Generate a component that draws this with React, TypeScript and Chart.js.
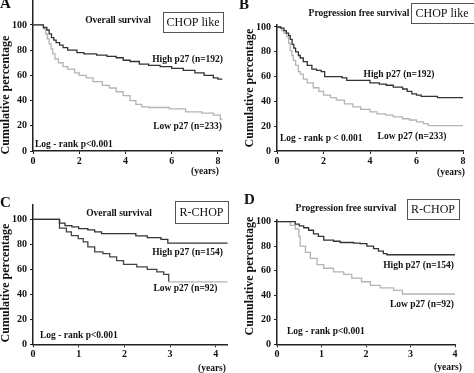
import React, { useEffect, useRef } from 'react';
import { Chart, registerables } from 'chart.js';
Chart.register(...registerables);

// ---- tick labels ----
const yTickValues = [0, 20, 40, 60, 80, 100];
const xTicks8 = [0, 2, 4, 6, 8];
const xTicks4 = [0, 1, 2, 3, 4];

// ---- A: Overall survival, CHOP like ----
const aHighT = [0, 0.45, 0.6, 0.7, 0.8, 0.9, 1.0, 1.15, 1.3, 1.5, 1.9, 2.2, 2.75, 3.2, 3.6, 3.9, 4.2, 4.6, 5.0, 5.5, 6.0, 6.5, 7.0, 7.4, 7.8, 8.0, 8.2];
const aHighS = [100, 98, 96, 93, 90, 88, 86, 84, 82, 80, 78, 77, 76, 75, 74, 72, 71, 69, 68, 67, 65.5, 64, 62, 60, 58, 57, 57];
const aLowT = [0, 0.45, 0.55, 0.62, 0.7, 0.78, 0.85, 0.95, 1.1, 1.3, 1.5, 1.8, 2.0, 2.3, 2.6, 3.0, 3.3, 3.6, 3.9, 4.2, 4.45, 4.7, 5.0, 5.9, 6.6, 7.3, 7.8, 8.1, 8.2];
const aLowS = [100, 97, 93, 89, 85, 81, 77, 73, 70, 67, 65, 62, 60, 58, 55, 52, 50, 47, 44, 40, 37, 35, 34.5, 33.5, 31, 30, 28.5, 25, 25];

// ---- B: Progression free survival, CHOP like ----
const bHighT = [0, 0.15, 0.3, 0.4, 0.5, 0.57, 0.65, 0.72, 0.8, 0.92, 1.0, 1.13, 1.3, 1.5, 1.7, 1.9, 2.05, 2.8, 3.0, 4.0, 4.4, 4.7, 5.0, 5.4, 5.6, 5.8, 6.0, 6.2, 6.9, 8.0];
const bHighS = [100, 99, 97, 95, 93, 90, 86, 83, 80, 77, 75, 72, 69, 66, 65, 64, 60, 59, 57, 55, 54, 53, 51.5, 50, 48, 46, 45, 44, 43, 43];
const bLowT = [0, 0.2, 0.3, 0.42, 0.5, 0.57, 0.64, 0.7, 0.8, 0.92, 1.0, 1.13, 1.3, 1.56, 1.8, 2.0, 2.3, 2.55, 2.9, 3.26, 3.6, 4.0, 4.3, 4.67, 5.0, 5.4, 5.7, 6.0, 6.3, 6.5, 8.0];
const bLowS = [100, 97, 95, 92, 87, 81, 77, 73, 69, 64, 62, 58, 55, 51, 48, 45, 43, 41, 38, 35.5, 33.5, 31.5, 30, 29, 27.5, 26, 25, 23.5, 22, 20.5, 20];

// ---- C: Overall survival, R-CHOP ----
const cHighT = [0, 0.58, 0.7, 0.85, 1.0, 1.2, 1.35, 1.5, 2.25, 2.5, 2.8, 2.95, 4.26];
const cHighS = [100, 97, 95, 94, 92.5, 91.5, 90, 88.5, 86.7, 85.3, 84, 81, 81];
const cLowT = [0, 0.58, 0.73, 0.84, 0.99, 1.1, 1.2, 1.35, 1.53, 1.68, 1.83, 1.98, 2.27, 2.5, 2.71, 2.86, 2.97];
const cLowS = [100, 93, 90, 87, 84.5, 82, 78, 74, 72.5, 70, 67, 64, 62, 60, 58, 56, 50];
const cLowTailT = [2.97, 4.26];
const cLowTailS = [50, 50];

// ---- D: Progression free survival, R-CHOP ----
const dHighT = [0, 0.41, 0.5, 0.6, 0.71, 0.82, 0.93, 1.05, 1.27, 1.42, 1.72, 1.87, 2.02, 2.17, 2.28, 2.39, 2.47, 4.0];
const dHighS = [100, 98, 96.5, 95, 93, 90, 88, 85, 84, 83, 82.5, 82, 80, 78, 76, 74, 73, 73];
const dLowT = [0, 0.3, 0.41, 0.49, 0.52, 0.64, 0.75, 0.9, 1.05, 1.27, 1.5, 1.68, 1.9, 2.1, 2.32, 2.62, 2.82, 4.0];
const dLowS = [100, 97, 94, 88, 80, 75, 70, 65, 62, 59, 57, 54, 51, 48, 46, 44, 41, 41];

const SERIF = '"Liberation Serif", "Times New Roman", serif';
const DARK = '#333333';
const LIGHT = '#b4b4b4';
const INK = '#111111';
const LBL = 9.5;

type Ann = {
  text: string; x: number; y: number; size: number; bold?: boolean;
  align?: CanvasTextAlign; rotate?: boolean; box?: [number, number, number, number];
};
type Series = { t: number[]; s: number[]; color: string };
type PanelCfg = {
  left: number; top: number; width: number; height: number;
  area: { left: number; right: number; top: number; bottom: number };
  xMax: number; yMax: number; xTicks: number[];
  series: Series[]; texts: Ann[];
};

const annPlugin = {
  id: 'annotations',
  afterDraw(chart: any) {
    const texts: Ann[] = chart.options.plugins.annotations?.texts || [];
    const ctx = chart.ctx as CanvasRenderingContext2D;
    ctx.save();
    for (const a of texts) {
      if (a.box) {
        ctx.strokeStyle = '#555';
        ctx.lineWidth = 1;
        ctx.strokeRect(a.box[0] + 0.5, a.box[1] + 0.5, a.box[2], a.box[3]);
      }
      ctx.fillStyle = INK;
      ctx.font = `${a.bold ? 'bold ' : ''}${a.size}px ${SERIF}`;
      ctx.textAlign = a.align || 'left';
      ctx.textBaseline = 'middle';
      if (a.rotate) {
        ctx.save();
        ctx.translate(a.x, a.y);
        ctx.rotate(-Math.PI / 2);
        ctx.fillText(a.text, 0, 0);
        ctx.restore();
      } else {
        ctx.fillText(a.text, a.x, a.y);
      }
    }
    ctx.restore();
  },
};

const tickFont = { family: SERIF, size: 10, weight: 'bold' as const };

function Panel({ cfg }: { cfg: PanelCfg }) {
  const ref = useRef<HTMLCanvasElement | null>(null);
  useEffect(() => {
    if (!ref.current) return;
    const { area, width, height } = cfg;
    const chart = new Chart(ref.current, {
      type: 'line',
      data: {
        datasets: cfg.series.map((sr) => ({
          data: sr.t.map((t, i) => ({ x: t, y: sr.s[i] })),
          borderColor: sr.color,
          borderWidth: 1.3,
          stepped: true,
          pointRadius: 0,
          fill: false,
        })),
      },
      options: {
        responsive: false,
        animation: false,
        layout: { padding: { left: 0, top: area.top, right: width - area.right, bottom: 0 } },
        plugins: {
          legend: { display: false },
          tooltip: { enabled: false },
          // @ts-ignore
          annotations: { texts: cfg.texts },
        },
        scales: {
          x: {
            type: 'linear', min: 0, max: cfg.xMax,
            afterBuildTicks: (s: any) => { s.ticks = cfg.xTicks.map((v) => ({ value: v })); },
            afterFit: (s: any) => { s.height = height - area.bottom; s.paddingLeft = 0; s.paddingRight = 0; },
            ticks: { font: tickFont, color: INK, padding: 1, maxRotation: 0, autoSkip: false },
            grid: { display: true, drawOnChartArea: false, drawTicks: true, tickLength: 3, color: '#222' },
            border: { display: true, color: '#222', width: 1.5 },
          },
          y: {
            type: 'linear', min: 0, max: cfg.yMax,
            afterBuildTicks: (s: any) => { s.ticks = yTickValues.map((v) => ({ value: v })); },
            afterFit: (s: any) => { s.width = area.left; s.paddingTop = 0; s.paddingBottom = 0; },
            ticks: { font: tickFont, color: INK, padding: 3, autoSkip: false },
            grid: { display: true, drawOnChartArea: false, drawTicks: true, tickLength: 3, color: '#222' },
            border: { display: true, color: '#222', width: 1.5 },
          },
        },
      } as any,
      plugins: [annPlugin],
    });
    return () => chart.destroy();
  }, [cfg]);
  return (
    <canvas
      ref={ref}
      width={cfg.width}
      height={cfg.height}
      style={{ position: 'absolute', left: cfg.left, top: cfg.top, width: cfg.width, height: cfg.height }}
    />
  );
}

const yTitle = 'Cumulative percentage';
const logRank = 'Log - rank p<0.001';

const panels: PanelCfg[] = [
  {
    left: 0, top: 0, width: 237, height: 186,
    area: { left: 33, right: 222.6, top: 0, bottom: 151 },
    xMax: 8.2, yMax: 119.8, xTicks: xTicks8,
    series: [
      { t: aHighT, s: aHighS, color: DARK },
      { t: aLowT, s: aLowS, color: LIGHT },
    ],
    texts: [
      { text: 'A', x: 0, y: 4, size: 15, bold: true },
      { text: 'Overall survival', x: 118, y: 21, size: LBL, bold: true, align: 'center' },
      { text: 'CHOP like', x: 193, y: 22.5, size: 12, align: 'center', box: [163, 12, 60, 20] },
      { text: 'High p27 (n=192)', x: 223, y: 60, size: LBL, bold: true, align: 'right' },
      { text: 'Low p27 (n=233)', x: 222, y: 127, size: LBL, bold: true, align: 'right' },
      { text: logRank, x: 35, y: 145, size: LBL, bold: true },
      { text: yTitle, x: 6, y: 95, size: 12, bold: true, align: 'center', rotate: true },
      { text: '(years)', x: 205, y: 172, size: LBL, bold: true, align: 'center' },
    ],
  },
  {
    left: 237, top: 0, width: 237, height: 186,
    area: { left: 40, right: 226, top: 24.5, bottom: 151 },
    xMax: 8, yMax: 102, xTicks: xTicks8,
    series: [
      { t: bHighT, s: bHighS, color: DARK },
      { t: bLowT, s: bLowS, color: LIGHT },
    ],
    texts: [
      { text: 'B', x: 2, y: 5, size: 15, bold: true },
      { text: 'Progression free survival', x: 122, y: 14, size: LBL, bold: true, align: 'center' },
      { text: 'CHOP like', x: 205, y: 14, size: 12, align: 'center', box: [174, 3, 70, 20] },
      { text: 'High p27 (n=192)', x: 162, y: 75, size: LBL, bold: true, align: 'center' },
      { text: 'Low p27 (n=233)', x: 175, y: 137, size: LBL, bold: true, align: 'center' },
      { text: 'Log - rank p < 0.001', x: 43, y: 139, size: LBL, bold: true },
      { text: yTitle, x: 13, y: 88, size: 12, bold: true, align: 'center', rotate: true },
      { text: '(years)', x: 214, y: 173, size: LBL, bold: true, align: 'center' },
    ],
  },
  {
    left: 0, top: 186, width: 237, height: 187,
    area: { left: 33, right: 227.7, top: 18.3, bottom: 158.3 },
    xMax: 4.26, yMax: 112, xTicks: xTicks4,
    series: [
      { t: cHighT, s: cHighS, color: DARK },
      { t: cLowT, s: cLowS, color: '#444444' },
      { t: cLowTailT, s: cLowTailS, color: LIGHT },
    ],
    texts: [
      { text: 'C', x: 0, y: 17, size: 15, bold: true },
      { text: 'Overall survival', x: 119, y: 27.5, size: LBL, bold: true, align: 'center' },
      { text: 'R-CHOP', x: 201.5, y: 26.5, size: 12, align: 'center', box: [175, 15, 53, 22] },
      { text: 'High p27 (n=154)', x: 223, y: 67, size: LBL, bold: true, align: 'right' },
      { text: 'Low p27 (n=92)', x: 185.5, y: 103, size: LBL, bold: true, align: 'center' },
      { text: logRank, x: 40, y: 150, size: LBL, bold: true },
      { text: yTitle, x: 6, y: 97, size: 12, bold: true, align: 'center', rotate: true },
      { text: '(years)', x: 212, y: 183, size: LBL, bold: true, align: 'center' },
    ],
  },
  {
    left: 237, top: 186, width: 237, height: 187,
    area: { left: 40, right: 218, top: 33.8, bottom: 158.3 },
    xMax: 4, yMax: 101.5, xTicks: xTicks4,
    series: [
      { t: dHighT, s: dHighS, color: DARK },
      { t: dLowT, s: dLowS, color: LIGHT },
    ],
    texts: [
      { text: 'D', x: 7, y: 14, size: 15, bold: true },
      { text: 'Progression free survival', x: 109, y: 22.5, size: LBL, bold: true, align: 'center' },
      { text: 'R-CHOP', x: 196, y: 23.5, size: 12, align: 'center', box: [170, 13, 52, 20] },
      { text: 'High p27 (n=154)', x: 217, y: 80, size: LBL, bold: true, align: 'right' },
      { text: 'Low p27 (n=92)', x: 217, y: 119, size: LBL, bold: true, align: 'right' },
      { text: logRank, x: 50, y: 146, size: LBL, bold: true },
      { text: yTitle, x: 13, y: 90, size: 12, bold: true, align: 'center', rotate: true },
      { text: '(years)', x: 211, y: 182, size: LBL, bold: true, align: 'center' },
    ],
  },
];

export default function App() {
  return (
    <div style={{ position: 'fixed', left: 0, top: 0, width: 474, height: 373, background: '#fff', overflow: 'hidden' }}>
      {panels.map((p, i) => <Panel key={i} cfg={p} />)}
    </div>
  );
}
